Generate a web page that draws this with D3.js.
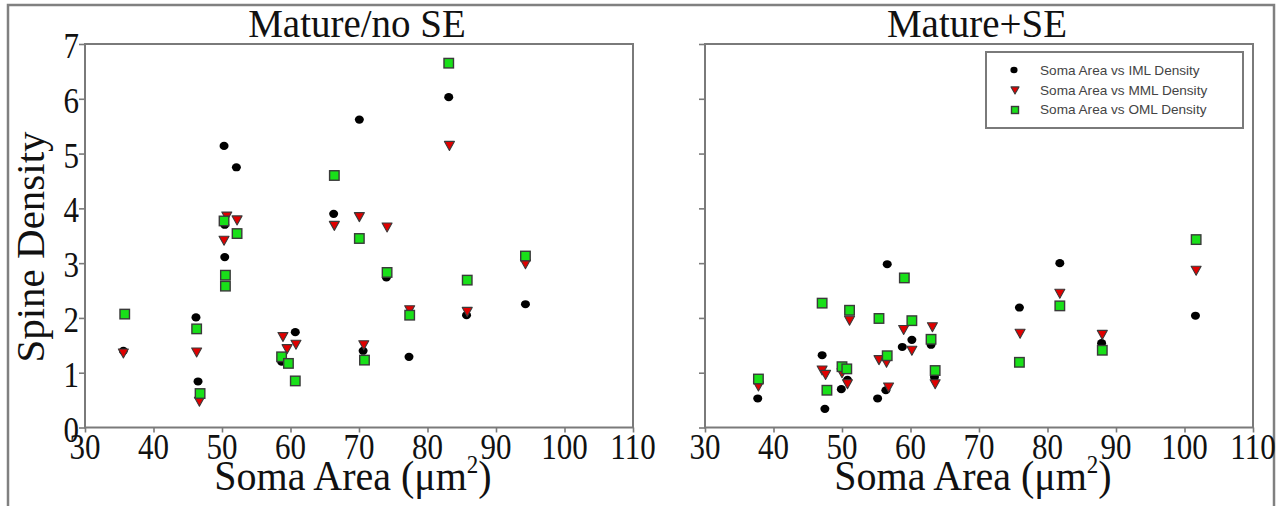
<!DOCTYPE html>
<html>
<head>
<meta charset="utf-8">
<script src="https://cdn.jsdelivr.net/npm/d3@7"></script>
<style>
  html, body { margin: 0; padding: 0; background: #fff; }
  svg { display: block; }
</style>
</head>
<body>
<svg id="chart" width="1282" height="506"></svg>
<script>
// ---- data: soma area (µm²) vs spine density per molecular-layer zone ----
const xTicks = [30, 40, 50, 60, 70, 80, 90, 100, 110];
const yTicks = [0, 1, 2, 3, 4, 5, 6, 7];
const panelTitles = ["Mature/no SE", "Mature+SE"];
const seriesNames = ["Soma Area vs IML Density", "Soma Area vs MML Density", "Soma Area vs OML Density"];

// Mature / no SE
const noSE_IML_x = [35.6, 46.2, 46.5, 50.3, 52.1, 50.4, 50.4, 58.7, 60.7, 66.3, 70.05, 70.6, 74.0, 77.3, 83.1, 85.7, 94.3];
const noSE_IML_y = [1.40, 2.01, 0.84, 5.14, 4.75, 3.70, 3.11, 1.20, 1.74, 3.90, 5.62, 1.40, 2.74, 1.29, 6.03, 2.05, 2.25];
const noSE_MML_x = [35.6, 46.3, 46.7, 50.7, 52.2, 50.3, 58.9, 59.5, 60.8, 66.4, 70.05, 70.7, 74.1, 77.4, 83.2, 85.8, 94.3];
const noSE_MML_y = [1.35, 1.37, 0.47, 3.85, 3.78, 3.41, 1.65, 1.43, 1.51, 3.68, 3.84, 1.50, 3.65, 2.14, 5.14, 2.11, 2.98];
const noSE_OML_x = [35.8, 46.3, 46.8, 50.3, 52.2, 50.5, 50.5, 58.7, 59.7, 60.7, 66.4, 70.05, 70.8, 74.1, 77.4, 83.1, 85.8, 94.3];
const noSE_OML_y = [2.07, 1.80, 0.62, 3.77, 3.54, 2.78, 2.58, 1.29, 1.17, 0.85, 4.60, 3.45, 1.23, 2.83, 2.05, 6.65, 2.69, 3.13];

// Mature + SE
const SE_IML_x = [37.7, 47.1, 47.5, 49.9, 50.8, 55.2, 56.6, 56.4, 58.8, 60.2, 63.0, 63.5, 75.9, 81.8, 87.9, 101.6];
const SE_IML_y = [0.53, 1.32, 0.34, 0.70, 0.87, 0.53, 2.98, 0.68, 1.47, 1.60, 1.51, 0.92, 2.19, 3.00, 1.54, 2.04];
const SE_MML_x = [37.8, 47.1, 47.6, 50.0, 50.8, 51.1, 55.4, 56.5, 56.8, 59.0, 60.2, 63.2, 63.6, 76.0, 81.8, 88.0, 101.7];
const SE_MML_y = [0.75, 1.04, 0.96, 0.99, 0.79, 1.95, 1.23, 1.18, 0.73, 1.78, 1.40, 1.83, 0.79, 1.71, 2.44, 1.69, 2.86];
const SE_OML_x = [37.8, 47.1, 47.8, 50.0, 50.7, 51.1, 55.4, 56.6, 59.1, 60.2, 63.0, 63.6, 75.9, 81.8, 88.0, 101.7];
const SE_OML_y = [0.885, 2.27, 0.68, 1.11, 1.07, 2.14, 1.99, 1.31, 2.73, 1.95, 1.61, 1.04, 1.19, 2.22, 1.41, 3.43];

// ---- drawing ----
const svg = d3.select("#chart");
const serif = "'Liberation Serif', 'Times New Roman', serif";
const sans = "'Liberation Sans', Arial, sans-serif";
const frameColor = "#7a7a7a";

// outer frame
svg.append("rect")
  .attr("x", 8).attr("y", 5).attr("width", 1266).attr("height", 520)
  .attr("fill", "none").attr("stroke", "#808080").attr("stroke-width", 2.5);

// helper: serif text with an optional vertical stretch
function label(g, x, y, txt, size, anchor, sy) {
  return g.append("g").attr("transform", `translate(${x},${y}) scale(1,${sy || 1})`)
    .append("text")
    .attr("text-anchor", anchor || "middle")
    .attr("font-family", serif)
    .attr("font-size", size)
    .attr("fill", "#111")
    .text(txt);
}

// symbol painters
function drawCircle(g, cx, cy, r) {
  g.append("ellipse").attr("cx", cx).attr("cy", cy).attr("rx", r).attr("ry", r * 0.9)
    .attr("fill", "#000");
}
function drawTriangle(g, cx, cy, w) {
  const h = w * 0.9;
  g.append("path")
    .attr("d", `M${cx - w / 2},${cy - h / 2}L${cx + w / 2},${cy - h / 2}L${cx},${cy + h / 2}Z`)
    .attr("fill", "#e00000").attr("stroke", "#3a3a3a").attr("stroke-width", 1.1)
    .attr("stroke-linejoin", "round");
}
function drawSquare(g, cx, cy, s) {
  g.append("rect").attr("x", cx - s / 2).attr("y", cy - s / 2).attr("width", s).attr("height", s)
    .attr("fill", "#19e019").attr("stroke", "#3a3a3a").attr("stroke-width", 1.4);
}

const panels = [
  { left: 85, right: 633, title: panelTitles[0], showYLabels: true,
    series: [[noSE_IML_x, noSE_IML_y], [noSE_MML_x, noSE_MML_y], [noSE_OML_x, noSE_OML_y]] },
  { left: 705, right: 1253, title: panelTitles[1], showYLabels: false,
    series: [[SE_IML_x, SE_IML_y], [SE_MML_x, SE_MML_y], [SE_OML_x, SE_OML_y]] }
];
const plotTop = 44, plotBottom = 427.5;

panels.forEach(p => {
  const g = svg.append("g");
  const x = d3.scaleLinear().domain([30, 110]).range([p.left, p.right]);
  const y = d3.scaleLinear().domain([0, 7]).range([plotBottom, plotTop]);

  // plot frame
  g.append("rect")
    .attr("x", p.left).attr("y", plotTop).attr("width", p.right - p.left).attr("height", plotBottom - plotTop)
    .attr("fill", "none").attr("stroke", frameColor).attr("stroke-width", 2);

  // axes: tick marks from d3, labels drawn separately
  const xAxis = g.append("g").attr("transform", `translate(0,${plotBottom})`)
    .call(d3.axisBottom(x).tickValues(xTicks).tickSize(5).tickFormat(""));
  const yAxis = g.append("g").attr("transform", `translate(${p.left},0)`)
    .call(d3.axisLeft(y).tickValues(yTicks).tickSize(6).tickFormat(""));
  [xAxis, yAxis].forEach(a => {
    a.select(".domain").remove();
    a.selectAll("line").attr("stroke", frameColor).attr("stroke-width", 1.6);
  });

  xTicks.forEach(v => label(g, x(v), 459, String(v), 31, "middle", 1.14));
  if (p.showYLabels) {
    yTicks.forEach(v => label(g, 79, y(v) + 14, String(v), 31, "end", 1.14));
  }

  // title
  label(g, (p.left + p.right) / 2 - 2, 37, p.title, 39, "middle", 1.0);

  // x-axis title with superscript
  const xt = svg.append("g").attr("transform", `translate(${(p.left + p.right) / 2 - 6},490) scale(1,1.08)`)
    .append("text").attr("text-anchor", "middle").attr("font-family", serif)
    .attr("font-size", 40).attr("fill", "#111");
  xt.append("tspan").text("Soma Area (μm");
  xt.append("tspan").attr("font-size", 23).attr("dy", -16).text("2");
  xt.append("tspan").attr("dy", 16).text(")");

  // points: IML, then MML, then OML on top
  const [iml, mml, oml] = p.series;
  const pts = g.append("g");
  iml[0].forEach((v, i) => drawCircle(pts, x(v), y(iml[1][i]), 4.5));
  mml[0].forEach((v, i) => drawTriangle(pts, x(v), y(mml[1][i]), 10));
  oml[0].forEach((v, i) => drawSquare(pts, x(v), y(oml[1][i]), 9.5));
});

// y-axis title
svg.append("g").attr("transform", `translate(44,247) rotate(-90)`)
  .append("text").attr("text-anchor", "middle").attr("font-family", serif)
  .attr("font-size", 41).attr("fill", "#111").text("Spine Density");

// legend
const lg = svg.append("g");
lg.append("rect").attr("x", 986).attr("y", 52).attr("width", 257).attr("height", 76)
  .attr("fill", "#fff").attr("stroke", frameColor).attr("stroke-width", 2);
const legendY = [70, 89.5, 109];
drawCircle(lg, 1014, legendY[0], 3.6);
drawTriangle(lg, 1015, legendY[1] + 1, 8);
drawSquare(lg, 1015, legendY[2] + 1, 7);
seriesNames.forEach((s, i) => {
  lg.append("text").attr("x", 1040).attr("y", legendY[i] + 5)
    .attr("font-family", sans).attr("font-size", 13.6).attr("fill", "#444").text(s);
});
</script>
</body>
</html>
